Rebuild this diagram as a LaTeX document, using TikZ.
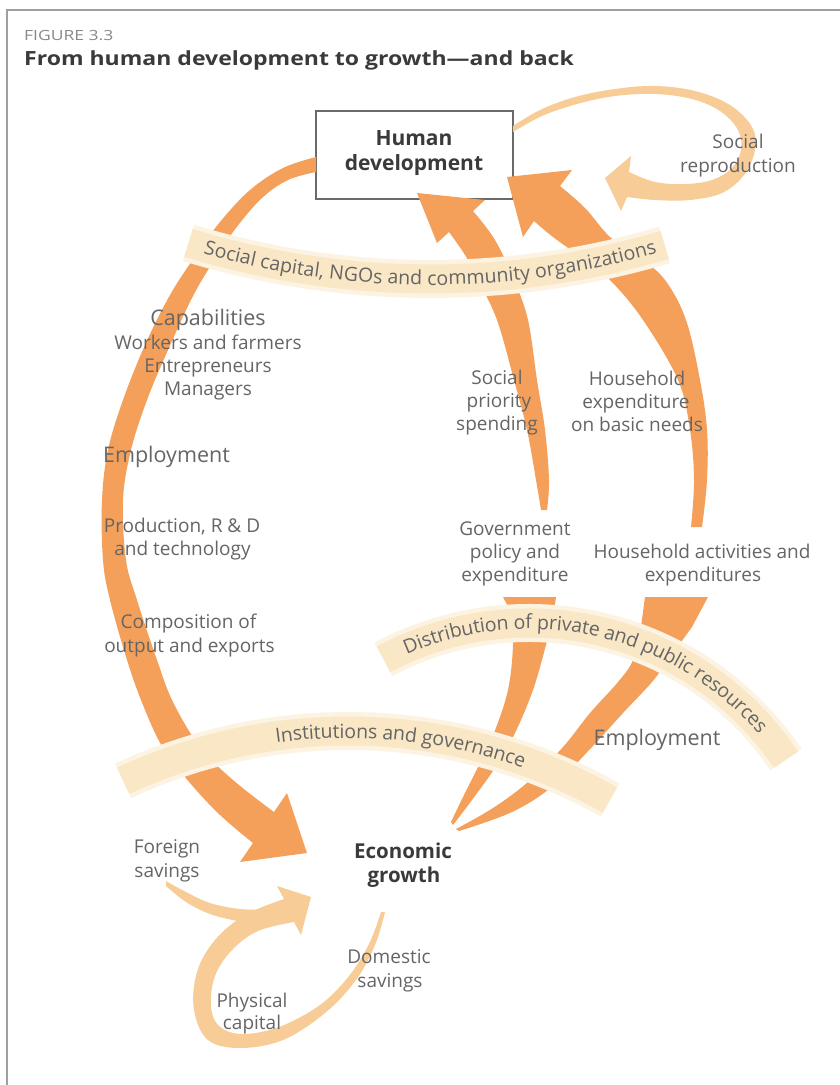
\documentclass[tikz,border=0pt]{standalone}
\usepackage{fontspec}
\usepackage{graphicx}
\setmainfont{Open Sans}
\usetikzlibrary{decorations.text}
\definecolor{arr}{HTML}{F4A05A}
\definecolor{lite}{HTML}{F8CC96}
\definecolor{bandc}{HTML}{F9E7C5}
\definecolor{bandg}{HTML}{FCF3E3}
\definecolor{txt}{HTML}{656565}
\definecolor{dark}{HTML}{3A3A3A}
\definecolor{framec}{HTML}{A0A0A0}
\definecolor{boxc}{HTML}{6A6A6A}
\newcommand\bandfont{\fontsize{19.5}{20}\selectfont\color{txt}}
\tikzset{
  lbl/.style={inner sep=0, anchor=base, text=txt, font=\fontsize{19}{23}\selectfont},
  lblbig/.style={inner sep=0, anchor=base, text=txt, font=\fontsize{21.5}{25}\selectfont},
  boldlbl/.style={inner sep=0, anchor=base, text=dark, font=\fontsize{20.5}{24}\selectfont\bfseries},
  bandglow/.style={draw=bandg, line width=38},
  bandcore/.style={draw=bandc, line width=29},
}
\begin{document}
\begin{tikzpicture}[x=1pt,y=-1pt]
\useasboundingbox (0,0) rectangle (840,1085);
\fill[white] (0,0) rectangle (840,1085);
% frame
\draw[framec, line width=1.5] (7,1085) -- (7,10) -- (840,10);
% titles
\node[inner sep=0, anchor=base west, text=framec!85!black] (fig) at (24,40)
  {\scalebox{1.25}[1]{\fontsize{14}{16}\selectfont FIGURE 3.3}};
\node[inner sep=0, anchor=base west, text=dark] (title) at (24,65)
  {\scalebox{1.18}[1]{\fontsize{19.5}{22}\selectfont\bfseries From human development to growth—and back}};
% box
\node[draw=boxc, line width=1.3, fill=white, minimum width=197, minimum height=88, inner sep=0] (hd) at (414.5,155) {};

% big left arc
\fill[arr] plot[smooth, tension=0.6] coordinates {(316,157) (283,168) (250,190) (220,222) (196,255) (170,295) (145,345) (123,400) (108,450) (102,500) (103,560) (110,600) (127,660) (143,705) (163,748) (190,783) (220,815) (253,843)}
  -- (240,862) -- (307,853) -- (287,793)
  -- plot[smooth, tension=0.6] coordinates {(274,812) (233,780) (200,747) (173,702) (157,660) (137,600) (126,560) (123,500) (131,450) (147,400) (168,350) (192,298) (213,262) (236,228) (262,198) (288,180) (316,172)} -- cycle;

% middle upper arrow
\fill[arr] (417,193) -- (485,200)
  -- plot[smooth, tension=0.6] coordinates {(473,211) (495,240) (514,280) (528,320) (537,380) (545,430) (549,480) (547,510)}
  -- plot[smooth, tension=0.6] coordinates {(541,510) (536,480) (527,430) (514,380) (497,320) (478,280) (465,255) (449,232)}
  -- (437,243) -- cycle;

% upper right arrow
\fill[arr] (507,177) -- (572,170)
  -- plot[smooth, tension=0.6] coordinates {(560,186) (585,208) (610,237) (640,258) (665,280) (686,320) (700,380) (707,430) (707,480) (702,527)}
  -- plot[smooth, tension=0.6] coordinates {(691,527) (694,480) (690,430) (678,380) (643,320) (610,280) (582,258) (553,237) (534,221)}
  -- (523,237) -- cycle;

% lower left wedge
\fill[arr] (503,597) -- (556,597)
  -- plot[smooth, tension=0.6] coordinates {(553,618) (546,645) (533,690) (515,733) (497,765) (472,800) (453,825)}
  -- plot[smooth, tension=0.6] coordinates {(451,822) (463,797) (480,763) (494,733) (508,690) (513,645) (511,612)} -- cycle;

% lower right wedge
\fill[arr] (645,597) -- (708,597)
  -- plot[smooth, tension=0.6] coordinates {(692,627) (668,660) (652,682) (623,713) (592,747) (553,786) (512,812) (459,831)}
  -- plot[smooth, tension=0.6] coordinates {(456,829) (493,808) (528,782) (563,747) (590,713) (618,682) (633,660) (641,627)} -- cycle;

% social reproduction loop
\fill[lite] plot[smooth, tension=0.6] coordinates {(513,126) (540,110) (575,97) (615,89) (655,86) (695,91) (730,105) (752,127) (755,150) (744,175) (722,193) (690,200) (655,200) (627,197)}
  -- (621,211) -- (605,178) -- (631,156)
  -- plot[smooth, tension=0.6] coordinates {(629,172) (655,182) (685,184) (712,180) (732,168) (741,150) (738,130) (720,111) (692,99) (655,94) (615,96) (577,104) (542,116) (513,132)} -- cycle;

% foreign savings
\fill[lite] plot[smooth, tension=0.6] coordinates {(166,881) (186,892) (210,903) (240,909) (270,909) (290,905)}
  -- plot[smooth, tension=0.6] coordinates {(290,922) (265,924) (238,921) (210,914) (186,902) (166,886)} -- cycle;

% physical capital loop
\fill[lite] plot[smooth, tension=0.6] coordinates {(385,912) (375,945) (356,980) (325,1013) (283,1040) (240,1048) (208,1040) (194,1010) (197,972) (215,940) (245,915) (284,899)}
  -- (277,886) -- (311,897) -- (301,935)
  -- plot[smooth, tension=0.6] coordinates {(294,922) (258,931) (232,950) (215,976) (211,1006) (219,1026) (242,1034) (279,1027) (320,1005) (349,976) (369,944) (381,912)} -- cycle;

% bands
\draw[bandglow] (430,-547) ++(107:826) arc[start angle=107, end angle=73.5, radius=826];
\draw[bandcore] (430,-547) ++(107:826) arc[start angle=107, end angle=73.5, radius=826];
\path[decorate, decoration={text along path, text align=center, raise=-6pt,
  text={|\bandfont|Social capital{,} NGOs and community organizations}}]
  (430,-547) ++(109:826) arc[start angle=109, end angle=71, radius=826];

\draw[bandglow] (529,933) ++(-118:310) arc[start angle=-118, end angle=-34, radius=310];
\draw[bandcore] (529,933) ++(-118:310) arc[start angle=-118, end angle=-34, radius=310];
\path[decorate, decoration={text along path, text align=center, raise=-6pt,
  text={|\bandfont|Distribution of private and public resources}}]
  (529,933) ++(-120:310) arc[start angle=-120, end angle=-34.6, radius=310];

\draw[bandglow] (348,1263) ++(-115:532) arc[start angle=-115, end angle=-60.5, radius=532];
\draw[bandcore] (348,1263) ++(-115:532) arc[start angle=-115, end angle=-60.5, radius=532];
\path[decorate, decoration={text along path, text align=center, raise=-7pt,
  text={|\bandfont|Institutions and governance}}]
  (348,1263) ++(-100:532) arc[start angle=-100, end angle=-68.4, radius=532];

% labels
\node[boldlbl, font=\fontsize{21}{24}\selectfont\bfseries] (hd1) at (414,145) {Human};
\node[boldlbl, font=\fontsize{21}{24}\selectfont\bfseries] (hd2) at (414,170) {development};
\node[boldlbl] (eg1) at (403,858) {Economic};
\node[boldlbl] (eg2) at (404,882) {growth};

\node[lbl] (sr1) at (738,148) {Social};
\node[lbl] (sr2) at (738,172) {reproduction};

\node[lblbig] (cap0) at (208,325) {Capabilities};
\node[lbl] (cap1) at (208,349) {Workers and farmers};
\node[lbl] (cap2) at (208,372) {Entrepreneurs};
\node[lbl] (cap3) at (208,395) {Managers};
\node[lblbig] (empl) at (166.5,462) {Employment};
\node[lbl] (prd1) at (182,532) {Production, R \& D};
\node[lbl] (prd2) at (182.5,555) {and technology};
\node[lbl] (cmp1) at (188.5,628) {Composition of};
\node[lbl] (cmp2) at (189.5,652) {output and exports};

\node[lbl] (sps1) at (497,384) {Social};
\node[lbl] (sps2) at (499,407) {priority};
\node[lbl] (sps3) at (497,430) {spending};
\node[lbl] (hbn1) at (637,385) {Household};
\node[lbl] (hbn2) at (636,408) {expenditure};
\node[lbl] (hbn3) at (637,431) {on basic needs};

\node[lbl] (gov1) at (515,535) {Government};
\node[lbl] (gov2) at (515,558) {policy and};
\node[lbl] (gov3) at (515,581) {expenditure};
\node[lbl] (hha1) at (702,558) {Household activities and};
\node[lbl] (hha2) at (703,581) {expenditures};

\node[lblbig] (empr) at (657,745) {Employment};

\node[lbl] (fs1) at (167,853) {Foreign};
\node[lbl] (fs2) at (167,877) {savings};
\node[lbl] (ds1) at (389,963) {Domestic};
\node[lbl] (ds2) at (390,987) {savings};
\node[lbl] (pc1) at (252,1007) {Physical};
\node[lbl] (pc2) at (252,1029) {capital};
\end{tikzpicture}
\end{document}
